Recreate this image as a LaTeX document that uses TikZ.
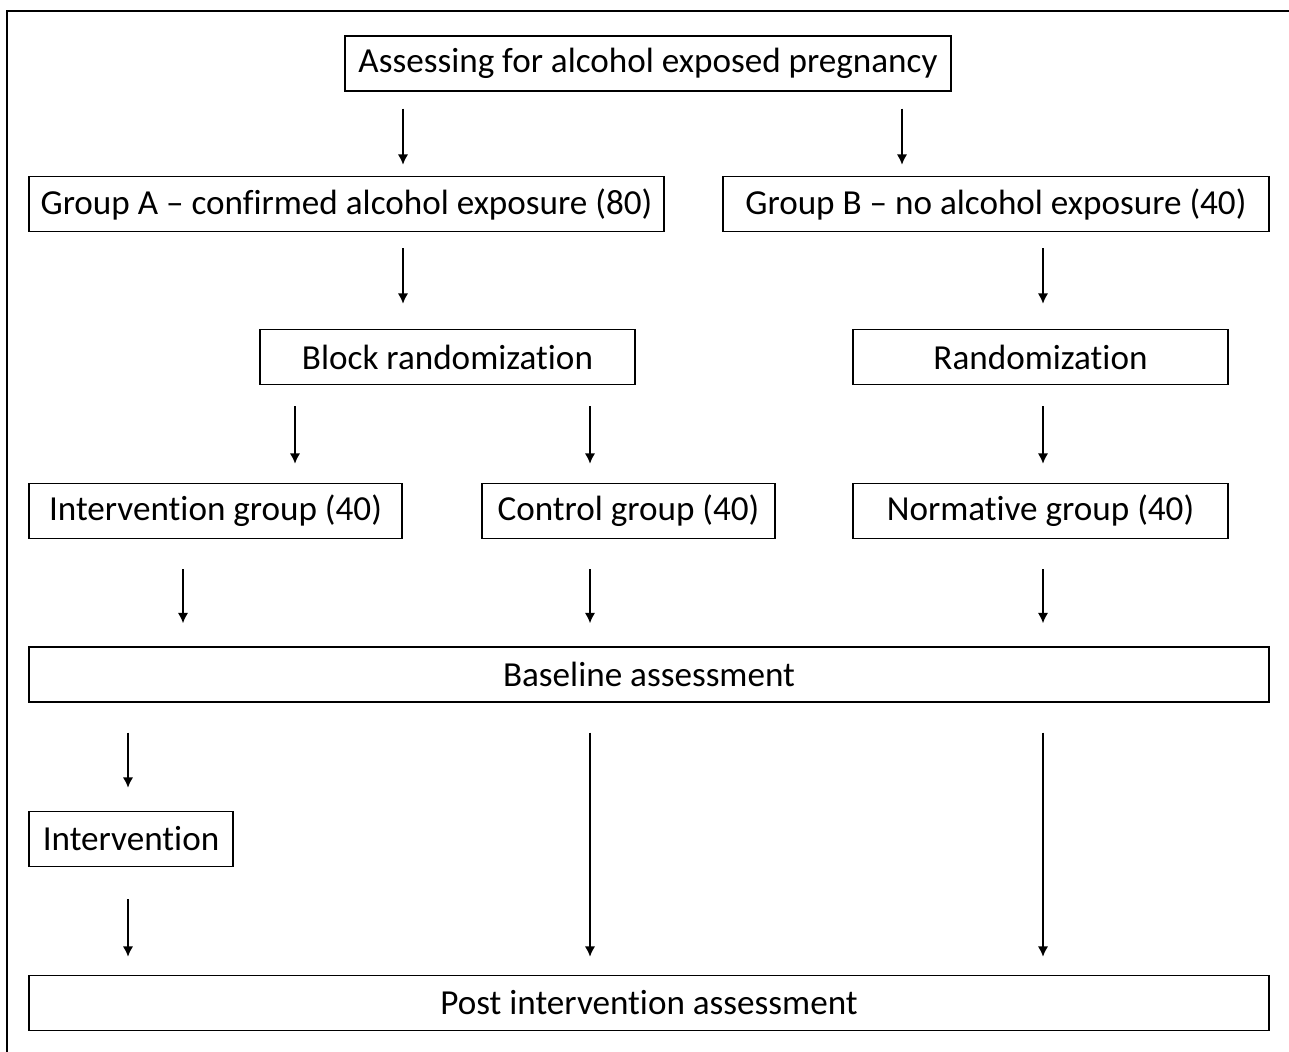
\documentclass[tikz,border=0pt]{standalone}
\usepackage{fontspec}
\setmainfont{Carlito}[Ligatures={TeX,NoCommon}]
\usetikzlibrary{arrows.meta}
\begin{document}
\begin{tikzpicture}[x=0.02cm,y=-0.02cm,>={Latex[length=6pt,width=6pt]},font=\fontsize{20}{24}\selectfont,
		box/.style={draw,line width=0.8pt,inner sep=0pt,minimum height=1.1cm}]
		\useasboundingbox (0,0) rectangle (1289,1052);
		\draw[line width=0.9pt] (7,1052)--(7,11)--(1289,11);
		% boxes
		\node[box,minimum width=12.12cm] (assess) at (648,63.5) {Assessing for alcohol exposed pregnancy};
		\node[box,minimum width=12.7cm] (grpA) at (346.5,204) {Group A -- confirmed alcohol exposure (80)};
		\node[box,minimum width=10.92cm] (grpB) at (996,204) {Group B -- no alcohol exposure (40)};
		\node[box,minimum width=7.5cm] (block) at (447.5,357) {Block randomization};
		\node[box,minimum width=7.5cm] (rand) at (1040.5,357) {Randomization};
		\node[box,minimum width=7.46cm] (intgrp) at (215.5,511) {Intervention group (40)};
		\node[box,minimum width=5.86cm] (ctrl) at (628.5,511) {Control group (40)};
		\node[box,minimum width=7.5cm] (norm) at (1040.5,511) {Normative group (40)};
		\node[box,minimum width=24.8cm] (base) at (649,674.5) {Baseline assessment};
		\node[box,minimum width=4.08cm] (interv) at (131,839) {Intervention};
		\node[box,minimum width=24.8cm] (post) at (649,1003) {Post intervention assessment};
		% arrows: from/to/x/gap start/gap end
		\foreach \s/\t/\x/\a/\b in {assess/grpA/403/17/11, assess/grpB/902/17/11,
			grpA/block/403/16/25, grpB/rand/1043/16/25,
			block/intgrp/295/21/19, block/ctrl/590/21/19, rand/norm/1043/21/19,
			intgrp/base/183/30/23, ctrl/base/590/30/23, norm/base/1043/30/23,
			base/interv/128/30/23, base/post/590/30/18, base/post/1043/30/18,
			interv/post/128/32/18}
			\draw[->,line width=1.1pt,shorten <=\a*0.02cm,shorten >=\b*0.02cm] (\s.south -| \x,0)--(\t.north -| \x,0);
	\end{tikzpicture}
\end{document}
